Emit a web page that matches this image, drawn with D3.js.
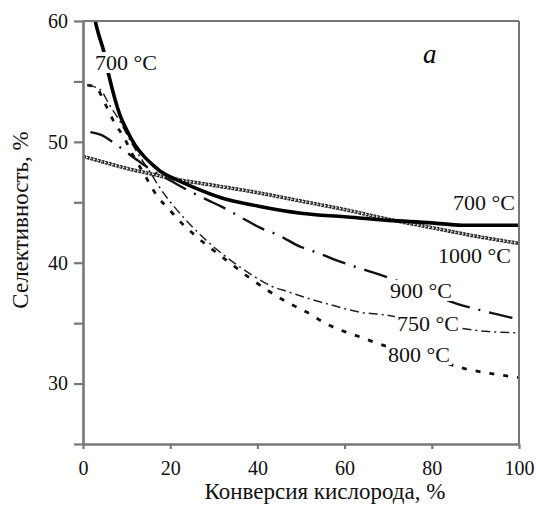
<!DOCTYPE html>
<html>
<head>
<meta charset="utf-8">
<script src="https://cdn.jsdelivr.net/npm/d3@7"></script>
<style>
  body { margin: 0; background: #fff; }
</style>
</head>
<body>
<svg id="chart" width="536" height="507"></svg>
<script>
// Конверсия кислорода (%) vs селективность (%)
const xTicks = [0, 20, 40, 60, 80, 100];
const yTicks = [25, 30, 35, 40, 45, 50, 55, 60];

const s700 = [[2.4, 60.6], [3.5, 59.0], [4.6, 57.7], [6, 55.4], [8.5, 52.2], [10, 51.0], [12, 49.7], [14, 48.8],
    [16, 48.1], [18, 47.5], [20.7, 47.0], [25, 46.3], [31.5, 45.4], [40, 44.7], [50, 44.1],
    [60, 43.8], [70, 43.5], [80, 43.3], [87, 43.1], [100, 43.1]];
const s1000 = [[0, 48.8], [5, 48.3], [10, 47.8], [15, 47.4], [20, 47.0], [30, 46.4], [40, 45.8],
    [50, 45.1], [60, 44.4], [70, 43.6], [80, 42.9], [90, 42.2], [100, 41.6]];
const s900 = [[1.7, 50.8], [4, 50.6], [7.9, 49.7], [12, 48.6], [16, 47.6], [20, 46.8], [24, 46.0],
    [28.5, 45.2], [32, 44.6], [37, 43.6], [40.6, 42.9], [44.7, 42.3], [50, 41.3], [54, 40.8],
    [57.4, 40.3], [63, 39.6], [69.8, 38.8], [78, 37.7], [85.8, 36.6], [92, 36.0], [100, 35.3]];
const s750 = [[1, 54.7], [4, 54.3], [6, 53.1], [8.3, 51.8], [11, 50.0], [13, 48.8], [15.2, 47.6],
    [18, 46.0], [21, 44.6], [25, 43.0], [30, 41.3], [35, 39.9], [40, 38.7], [43, 38.1], [47, 37.6],
    [53, 36.9], [57, 36.5], [63.6, 35.9], [69, 35.7], [75, 35.3], [86, 34.6], [93, 34.3], [100, 34.2]];
const s800 = [[1, 54.7], [3, 54.5], [5, 53.2], [7.2, 51.6], [9.5, 50.3], [11.3, 49.0], [13.6, 47.6],
    [15.2, 46.6], [17, 45.5], [19.3, 44.6], [22.3, 43.4], [26.2, 42.1], [30, 41.0], [34, 39.9],
    [38, 38.8], [42, 37.8], [47.5, 36.6], [51.4, 35.9], [55.5, 35.0], [60, 34.3], [64, 33.8],
    [67, 33.4], [75, 32.5], [84, 31.6], [88, 31.2], [94, 30.8], [100, 30.5]];

const labels = [
    { text: "700 °C", x: 95, y: 70 },
    { text: "700 °C", x: 453, y: 210 },
    { text: "1000 °C", x: 438, y: 263 },
    { text: "900 °C", x: 390, y: 298 },
    { text: "750 °C", x: 397, y: 331 },
    { text: "800 °C", x: 388, y: 362 }
];

const serif = "Liberation Serif";

const svg = d3.select("#chart");
const margin = { left: 83, right: 17, top: 21, bottom: 63 };
const width = 536 - margin.left - margin.right;
const height = 507 - margin.top - margin.bottom;

const x = d3.scaleLinear().domain([0, 100]).range([0, width]);
const y = d3.scaleLinear().domain([25, 60]).range([height, 0]);

const g = svg.append("g").attr("transform", `translate(${margin.left}, ${margin.top})`);

g.append("clipPath").attr("id", "plot-clip")
    .append("rect").attr("width", width).attr("height", height);

const line = d3.line()
    .x(d => x(d[0]))
    .y(d => y(d[1]))
    .curve(d3.curveMonotoneX);

const plot = g.append("g").attr("clip-path", "url(#plot-clip)");

// 1000 °C - chain of small rings
plot.append("path").attr("d", line(s1000))
    .attr("fill", "none").attr("stroke", "#2a2a2a").attr("stroke-width", 3.6)
    .attr("stroke-dasharray", "3,0.8");
plot.append("path").attr("d", line(s1000))
    .attr("fill", "none").attr("stroke", "#fff").attr("stroke-width", 1.1)
    .attr("stroke-dasharray", "1.3,2.5");

plot.append("path").attr("d", line(s800))
    .attr("fill", "none").attr("stroke", "#111").attr("stroke-width", 2.8)
    .attr("stroke-dasharray", "5,9");
plot.append("path").attr("d", line(s750))
    .attr("fill", "none").attr("stroke", "#222").attr("stroke-width", 1.5)
    .attr("stroke-dasharray", "9,4,2,4");
plot.append("path").attr("d", line(s900))
    .attr("fill", "none").attr("stroke", "#111").attr("stroke-width", 2.4)
    .attr("stroke-dasharray", "24,9,2,9");
plot.append("path").attr("d", line(s700))
    .attr("fill", "none").attr("stroke", "#000").attr("stroke-width", 3.6);

// labels with white backing, which makes the gaps in the curves
const lab = g.append("g");
labels.forEach(l => {
    const t = lab.append("text")
        .attr("x", l.x - margin.left).attr("y", l.y - margin.top)
        .attr("font-family", serif)
        .attr("font-size", 22).attr("fill", "#111")
        .text(l.text);
    const b = t.node().getBBox();
    lab.insert("rect", "text")
        .attr("x", b.x - 2).attr("y", b.y + 2)
        .attr("width", b.width + 4).attr("height", b.height - 4)
        .attr("fill", "#fff");
});

g.append("text")
    .attr("x", 423 - margin.left).attr("y", 63 - margin.top)
    .attr("font-family", serif)
    .attr("font-size", 27).attr("font-style", "italic")
    .text("a");

// frame
g.append("line").attr("x1", 0).attr("x2", width).attr("y1", 0).attr("y2", 0)
    .attr("stroke", "#777").attr("stroke-width", 2);
g.append("line").attr("x1", width).attr("x2", width).attr("y1", 0).attr("y2", height)
    .attr("stroke", "#777").attr("stroke-width", 2);

const xAxis = g.append("g")
    .attr("transform", `translate(0, ${height})`)
    .call(d3.axisBottom(x).tickValues(xTicks).tickSize(5).tickSizeOuter(0).tickPadding(12));

const yAxis = g.append("g")
    .call(d3.axisLeft(y).tickValues(yTicks).tickSize(9).tickSizeOuter(0).tickPadding(6)
        .tickFormat(d => d % 10 === 0 ? d : ""));

[xAxis, yAxis].forEach(a => {
    a.attr("font-family", serif);
    a.select(".domain").attr("stroke", "#777").attr("stroke-width", 2.6);
    a.selectAll(".tick line").attr("stroke", "#777").attr("stroke-width", 2.2);
    a.selectAll(".tick text").attr("font-size", 20).attr("fill", "#111");
});

svg.append("text")
    .attr("x", 325).attr("y", 499)
    .attr("font-family", serif)
    .attr("text-anchor", "middle").attr("font-size", 23).attr("fill", "#111")
    .text("Конверсия кислорода, %");

svg.append("text")
    .attr("transform", "translate(28, 220) rotate(-90)")
    .attr("font-family", serif)
    .attr("text-anchor", "middle").attr("font-size", 23).attr("fill", "#111")
    .text("Селективность, %");
</script>
</body>
</html>
